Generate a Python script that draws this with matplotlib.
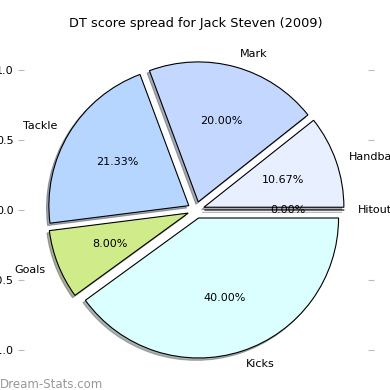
import matplotlib
matplotlib.use("Agg")
import matplotlib.pyplot as plt

# Dati del grafico
categorie = ["Handball", "Mark", "Tackle", "Goals", "Kicks", "Hitout"]
valori = [10.67, 20.00, 21.33, 8.00, 40.00, 0.00]
colori = ["#e8f0ff", "#c4d8ff", "#b6d5ff", "#d0eb8a", "#dbffff", "#ffffff"]
esplosione = [0.06] * len(valori)

fig = plt.figure(figsize=(3.9, 3.9), dpi=100)
ax = fig.add_axes([24 / 390, 5 / 390, 344 / 390, 350 / 390])

ax.pie(valori, labels=categorie, colors=colori,
       explode=esplosione, autopct="%1.2f%%",
       shadow={"ox": -0.012, "oy": -0.012, "shade": 0.6}, startangle=0,
       wedgeprops={"edgecolor": "black", "linewidth": 0.8},
       textprops={"fontsize": 8})

ax.set_xlim(-1.229, 1.229)
ax.set_ylim(-1.25, 1.25)
ax.set_aspect("auto")
ax.set_title("DT score spread for Jack Steven (2009)", fontsize=9.3)

for s in ax.spines.values():
    s.set_visible(False)
ax.set_xticks([])
ax.set_yticks([-1.0, -0.5, 0.0, 0.5, 1.0])
ax.tick_params(axis="y", left=True, right=True, labelleft=True,
               color="#bbbbbb", length=4, labelsize=8)

fig.text(0.0, 0.005, "Dream-Stats.com", color="#999999", fontsize=8.5)

fig.savefig("out.png", dpi=100)
